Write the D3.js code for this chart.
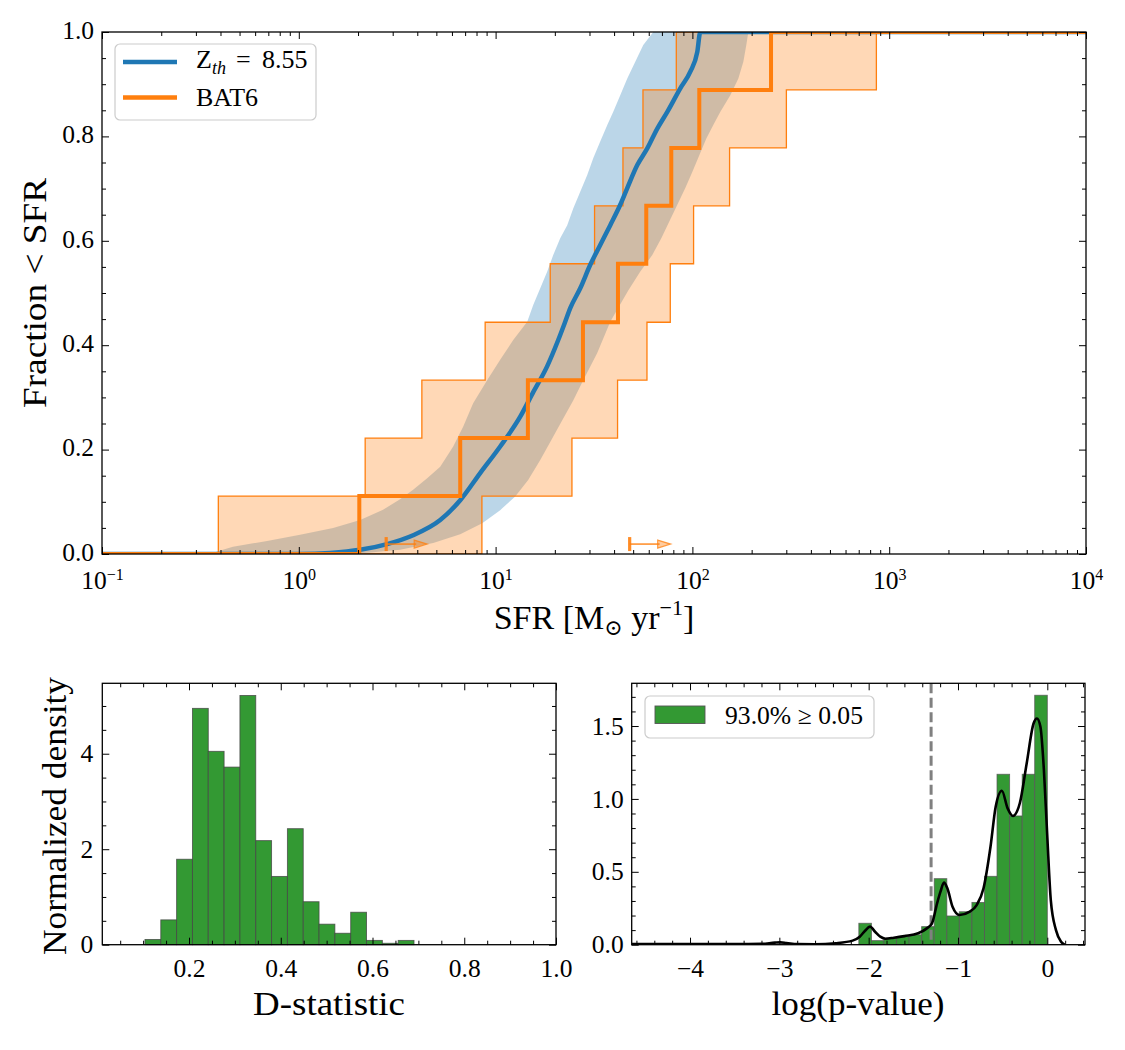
<!DOCTYPE html>
<html><head><meta charset="utf-8">
<script src="https://cdn.jsdelivr.net/npm/d3@7"></script>
<style>
body{margin:0;background:#fff;}
svg{display:block;}
svg text{font-family:'Liberation Serif','DejaVu Serif',serif;}
</style></head><body>
<svg id="chart" width="1125" height="1050"></svg>
<script>
// ---------------- DATA ----------------
// BAT6 observed ECDF (SFR in Msun/yr) and fractions
const bat6SFR  = [2.03, 6.61, 14.59, 27.79, 41.86, 58.29, 78.1, 108.4, 250.9];
const bat6Frac = [0.111, 0.222, 0.333, 0.444, 0.556, 0.667, 0.778, 0.889, 1.0];
// BAT6 confidence band edges (step positions)
const bat6UpperSFR = [0.390, 2.174, 4.22, 8.85, 18.95, 31.83, 44.38, 56.09, 82.83];
const bat6LowerSFR = [8.52, 24.43, 41.66, 58.77, 77.19, 101.4, 154.5, 300.3, 860.7];
// BAT6 lower limits (arrows)
const bat6LimitSFR = [2.78, 48.0];
const bat6LimitFrac = [0.019, 0.019];

// Model (Z_th = 8.55) median cumulative distribution
const modelSFR  = [1.015, 1.442, 2.05, 2.81, 3.81, 5.23, 6.61, 8.35, 10.55, 13.34, 15.53, 18.30, 20.81, 22.58, 23.95, 26.92, 30.27, 34.01, 38.25, 42.99, 46.67, 52.47, 58.97, 66.31, 74.56, 86.79, 97.57, 105.9, 109.7];
const modelFrac = [0, 0.002, 0.008, 0.019, 0.036, 0.065, 0.103, 0.155, 0.206, 0.263, 0.31, 0.36, 0.41, 0.445, 0.471, 0.509, 0.554, 0.592, 0.63, 0.669, 0.701, 0.745, 0.777, 0.815, 0.847, 0.892, 0.924, 0.962, 1.0];
// Model band: upper (left) edge
const modelHiSFR  = [0.362, 0.384, 0.463, 0.690, 1.015, 1.494, 2.05, 2.68, 3.27, 3.81, 4.49, 5.23, 6.09, 6.84, 7.69, 9.06, 10.55, 12.29, 14.48, 15.53, 16.86, 18.30, 19.63, 21.30, 23.12, 24.80, 26.92, 29.22, 31.34, 34.01, 36.94, 39.62, 42.99, 46.67, 51.25, 56.28, 63.28];
const modelHiFrac = [0, 0.005, 0.014, 0.025, 0.037, 0.05, 0.065, 0.085, 0.105, 0.123, 0.145, 0.167, 0.206, 0.244, 0.289, 0.333, 0.372, 0.41, 0.445, 0.477, 0.509, 0.541, 0.573, 0.605, 0.63, 0.662, 0.694, 0.726, 0.758, 0.79, 0.822, 0.847, 0.879, 0.911, 0.943, 0.975, 1.0];
// Model band: lower (right) edge
const modelLoSFR  = [1.720, 2.304, 3.27, 4.82, 6.61, 8.55, 10.55, 12.58, 14.64, 16.86, 19.17, 21.81, 24.80, 27.88, 32.84, 38.25, 42.50, 47.22, 54.36, 62.54, 69.50, 76.32, 83.81, 92.03, 99.89, 108.4, 117.7, 127.7, 138.7, 155.8, 171.2, 181.5, 187.9, 192.4];
const modelLoFrac = [0, 0.003, 0.008, 0.021, 0.038, 0.059, 0.084, 0.11, 0.142, 0.18, 0.218, 0.256, 0.294, 0.333, 0.385, 0.445, 0.475, 0.505, 0.541, 0.573, 0.605, 0.637, 0.669, 0.701, 0.732, 0.764, 0.796, 0.822, 0.847, 0.879, 0.911, 0.943, 0.975, 1.0];

// D-statistic histogram
const dEdges   = [0.104, 0.1385, 0.173, 0.2075, 0.242, 0.2765, 0.311, 0.3455, 0.380, 0.4145, 0.449, 0.4835, 0.518, 0.5525, 0.587, 0.6215, 0.656, 0.6905];
const dDensity = [0.11, 0.52, 1.79, 4.95, 4.05, 3.72, 5.22, 2.18, 1.43, 2.43, 0.90, 0.43, 0.24, 0.68, 0.09, 0.03, 0.09];

// log(p-value) histogram
const pEdges   = [-2.110, -1.969, -1.829, -1.688, -1.547, -1.407, -1.266, -1.125, -0.985, -0.844, -0.703, -0.563, -0.422, -0.281, -0.141, 0.0];
const pDensity = [0.147, 0.028, 0.044, 0.055, 0.068, 0.124, 0.453, 0.197, 0.226, 0.290, 0.469, 1.169, 0.883, 1.169, 1.711];
// KDE of log(p-value)
const kdeX = [-4.65, -4.0, -3.5, -3.2, -3.05, -2.99, -2.92, -2.8, -2.6, -2.37, -2.18, -2.10, -2.04, -1.985, -1.928, -1.87, -1.813, -1.717, -1.60, -1.446, -1.349, -1.291, -1.234, -1.196, -1.157, -1.119, -1.061, -0.983, -0.868, -0.791, -0.714, -0.636, -0.578, -0.509, -0.444, -0.385, -0.308, -0.231, -0.154, -0.116, -0.077, -0.038, 0.0, 0.039, 0.097, 0.154, 0.193];
const kdeY = [0.005, 0.005, 0.004, 0.006, 0.014, 0.016, 0.012, 0.004, 0.003, 0.010, 0.028, 0.055, 0.096, 0.124, 0.089, 0.055, 0.041, 0.048, 0.059, 0.078, 0.112, 0.146, 0.284, 0.364, 0.426, 0.387, 0.261, 0.204, 0.227, 0.272, 0.387, 0.672, 0.947, 1.056, 0.935, 0.883, 0.970, 1.243, 1.517, 1.552, 1.495, 1.198, 0.740, 0.306, 0.100, 0.020, 0.0];
const pThreshold = -1.301; // log10(0.05)
const pLegendLabel = "93.0% \u2265 0.05";

// Tick definitions
const topXMajor = [0.1, 1, 10, 100, 1000, 10000];
const topYMajor = [0, 0.2, 0.4, 0.6, 0.8, 1.0];
const dXMajor = [0.2, 0.4, 0.6, 0.8, 1.0];
const dYMajor = [0, 2, 4];
const pXMajor = [-4, -3, -2, -1, 0];
const pYMajor = [0, 0.5, 1.0, 1.5];

// ---------------- DRAW ----------------
const FONT = "'Liberation Serif','DejaVu Serif',serif";
const TICKFS = 25.5;
const svg = d3.select("#chart").style("font-family", FONT);
const C0 = "#1f77b4", C1 = "#ff7f0e", GREEN = "#339933";

function axesFrame(x, y, box, o) {
  const g = svg.append("g");
  const add = (axis, tx, ty) => {
    const a = g.append("g").attr("transform", `translate(${tx},${ty})`).call(axis);
    a.select(".domain").remove();
    a.attr("font-family", null).style("font-family", FONT).attr("font-size", TICKFS);
    a.selectAll("line").attr("stroke", "#000").attr("stroke-width", 1);
    a.selectAll("text").attr("fill", "#000");
    return a;
  };
  const bx = add(d3.axisBottom(x).tickValues(o.xMajor).tickSize(-7).tickFormat(o.xFmt), 0, box.b);
  bx.selectAll("text").attr("dy", null).attr("y", o.xBase || 32);
  add(d3.axisBottom(x).tickValues(o.xMinor).tickSize(-4).tickFormat(""), 0, box.b);
  add(d3.axisTop(x).tickValues(o.xMajor).tickSize(-7).tickFormat(""), 0, box.t);
  add(d3.axisTop(x).tickValues(o.xMinor).tickSize(-4).tickFormat(""), 0, box.t);
  const ly = add(d3.axisLeft(y).tickValues(o.yMajor).tickSize(-7).tickPadding(o.yPad).tickFormat(o.yFmt), box.l, 0);
  if (o.yDy) ly.selectAll("text").attr("dy", o.yDy);
  add(d3.axisLeft(y).tickValues(o.yMinor).tickSize(-4).tickFormat(""), box.l, 0);
  add(d3.axisRight(y).tickValues(o.yMajor).tickSize(-7).tickFormat(""), box.r, 0);
  add(d3.axisRight(y).tickValues(o.yMinor).tickSize(-4).tickFormat(""), box.r, 0);
  g.append("rect").attr("x", box.l).attr("y", box.t).attr("width", box.r - box.l).attr("height", box.b - box.t)
    .attr("fill", "none").attr("stroke", "#000").attr("stroke-width", 1.3);
  return { bx, ly };
}

function stepVerts(xs, ys, xStart, xEnd, y0) {
  const v = [[xStart, y0]];
  let prev = y0;
  xs.forEach((xv, i) => { v.push([xv, prev]); v.push([xv, ys[i]]); prev = ys[i]; });
  v.push([xEnd, prev]);
  return v;
}

// ===== TOP PANEL =====
const T = { l: 102, r: 1086, t: 32, b: 554 };
const xT = d3.scaleLog().domain([0.1, 1e4]).range([T.l, T.r]);
const yT = d3.scaleLinear().domain([0, 1]).range([T.b, T.t]);
const defs = svg.append("defs");
defs.append("clipPath").attr("id", "clipT").append("rect")
  .attr("x", T.l).attr("y", T.t).attr("width", T.r - T.l).attr("height", T.b - T.t);
const gT = svg.append("g").attr("clip-path", "url(#clipT)");
const lineT = d3.line().x(d => xT(d[0])).y(d => yT(d[1]));

// model band
const hiPts = modelHiSFR.map((s, i) => [s, modelHiFrac[i]]);
const loPts = modelLoSFR.map((s, i) => [s, modelLoFrac[i]]);
const bandPoly = [[0.1, 0]].concat(hiPts, [[1e4, 1]], loPts.slice().reverse());
gT.append("path").attr("d", lineT(bandPoly) + "Z").attr("fill", C0).attr("fill-opacity", 0.3).attr("stroke", "none");

// BAT6 band
const upV = stepVerts(bat6UpperSFR, bat6Frac, 0.1, 1e4, 0);
const loV = stepVerts(bat6LowerSFR, bat6Frac, 0.1, 1e4, 0);
gT.append("path").attr("d", lineT(upV.concat(loV.slice().reverse())) + "Z")
  .attr("fill", C1).attr("fill-opacity", 0.3).attr("stroke", C1).attr("stroke-width", 1.3).attr("stroke-linejoin", "miter");

// model median line
const medPts = [[0.1, 0]].concat(modelSFR.map((s, i) => [s, modelFrac[i]]), [[1e4, 1]]);
gT.append("path").attr("d", lineT.curve(d3.curveMonotoneX)(medPts)).attr("fill", "none").attr("stroke", C0).attr("stroke-width", 4.5).attr("stroke-linejoin", "round");
lineT.curve(d3.curveLinear);

// BAT6 ECDF
const ecdf = stepVerts(bat6SFR, bat6Frac, 0.1, 1e4, 0);
gT.append("path").attr("d", lineT(ecdf)).attr("fill", "none").attr("stroke", C1).attr("stroke-width", 4).attr("stroke-linejoin", "miter");

// lower-limit arrows
bat6LimitSFR.forEach((s, i) => {
  const x0 = xT(s), y0 = yT(bat6LimitFrac[i]);
  gT.append("line").attr("x1", x0).attr("x2", x0).attr("y1", y0 - 7).attr("y2", y0 + 7)
    .attr("stroke", C1).attr("stroke-width", 3.2).attr("stroke-opacity", 0.9);
  gT.append("line").attr("x1", x0).attr("x2", x0 + 30).attr("y1", y0).attr("y2", y0)
    .attr("stroke", C1).attr("stroke-width", 1.8).attr("stroke-opacity", 0.75);
  gT.append("path").attr("d", `M${x0 + 28},${y0 - 4} L${x0 + 41},${y0} L${x0 + 28},${y0 + 4} Z`)
    .attr("fill", C1).attr("fill-opacity", 0.4).attr("stroke", C1).attr("stroke-opacity", 0.75).attr("stroke-width", 1.2);
});

// axes top
const topXMinor = [];
[-1, 0, 1, 2, 3].forEach(e => { for (let k = 2; k <= 9; k++) topXMinor.push(k * Math.pow(10, e)); });
const topYMinor = d3.range(0, 21).map(i => i * 0.05).filter(v => Math.abs(v * 5 - Math.round(v * 5)) > 1e-6);
const axT = axesFrame(xT, yT, T, {
  xMajor: topXMajor, xMinor: topXMinor, xFmt: () => "", xBase: 35,
  yMajor: topYMajor, yMinor: topYMinor, yFmt: d3.format(".1f"), yPad: 8, yDy: "0.25em"
});
axT.bx.selectAll(".tick text").each(function (d) {
  const t = d3.select(this);
  const e = Math.round(Math.log10(d));
  t.text("");
  t.append("tspan").text("10");
  t.append("tspan").attr("dy", -9).attr("font-size", 16).text(e < 0 ? "\u2212" + Math.abs(e) : String(e));
});

// top legend
const lg = svg.append("g");
lg.append("rect").attr("x", 115).attr("y", 44).attr("width", 201).attr("height", 76).attr("rx", 5)
  .attr("fill", "#fff").attr("fill-opacity", 0.8).attr("stroke", "#cccccc").attr("stroke-width", 1.2);
lg.append("line").attr("x1", 123).attr("x2", 177).attr("y1", 62).attr("y2", 62).attr("stroke", C0).attr("stroke-width", 4.5);
lg.append("line").attr("x1", 123).attr("x2", 177).attr("y1", 97.5).attr("y2", 97.5).attr("stroke", C1).attr("stroke-width", 4.5);
const lt1 = lg.append("text").attr("x", 196).attr("y", 68).attr("font-size", 26);
lt1.append("tspan").text("Z");
lt1.append("tspan").attr("dy", 6).attr("font-size", 18).attr("font-style", "italic").text("th");
lt1.append("tspan").attr("x", 236).attr("dy", -6).text("=");
lt1.append("tspan").attr("x", 262).text("8.55");
lg.append("text").attr("x", 196).attr("y", 106).attr("font-size", 26).text("BAT6");

// top axis labels
const xl = svg.append("text").attr("x", 594).attr("y", 629).attr("text-anchor", "middle").attr("font-size", 34);
xl.append("tspan").text("SFR [M");
xl.append("tspan").attr("font-size", 22).attr("dy", 6).text("\u2299");
xl.append("tspan").attr("dy", -6).text(" yr");
xl.append("tspan").attr("font-size", 22).attr("dy", -14).text("\u22121");
xl.append("tspan").attr("dy", 14).text("]");
svg.append("text").attr("transform", "translate(46,293) rotate(-90)").attr("text-anchor", "middle")
  .attr("font-size", 33).attr("textLength", 230).attr("lengthAdjust", "spacingAndGlyphs").text("Fraction < SFR");

// ===== BOTTOM LEFT: D-statistic =====
const BL = { l: 102.3, r: 556, t: 683.3, b: 944.7 };
const xD = d3.scaleLinear().domain([0.011, 1.0]).range([BL.l, BL.r]);
const yD = d3.scaleLinear().domain([0, 5.475]).range([BL.b, BL.t]);
const gD = svg.append("g");
gD.selectAll("rect").data(dDensity).join("rect")
  .attr("x", (d, i) => xD(dEdges[i])).attr("width", (d, i) => xD(dEdges[i + 1]) - xD(dEdges[i]))
  .attr("y", d => yD(d)).attr("height", d => yD(0) - yD(d))
  .attr("fill", GREEN).attr("stroke", "#444").attr("stroke-opacity", 0.8).attr("stroke-width", 0.9);
const dXMinor = d3.range(1, 20).map(i => +(i * 0.05).toFixed(2)).filter(v => Math.abs(v * 5 - Math.round(v * 5)) > 1e-6);
const dYMinor = d3.range(1, 11).map(i => i * 0.5).filter(v => v % 2 !== 0);
axesFrame(xD, yD, BL, {
  xMajor: dXMajor, xMinor: dXMinor, xFmt: d3.format(".1f"),
  yMajor: dYMajor, yMinor: dYMinor, yFmt: d3.format("d"), yPad: 9
});
svg.append("text").attr("x", 329).attr("y", 1015).attr("text-anchor", "middle").attr("font-size", 33)
  .attr("textLength", 152).attr("lengthAdjust", "spacingAndGlyphs").text("D-statistic");
svg.append("text").attr("transform", "translate(66,816) rotate(-90)").attr("text-anchor", "middle")
  .attr("font-size", 33).attr("textLength", 278).attr("lengthAdjust", "spacingAndGlyphs").text("Normalized density");

// ===== BOTTOM RIGHT: log(p-value) =====
const BR = { l: 631.7, r: 1085, t: 683.3, b: 944.7 };
const xP = d3.scaleLinear().domain([-4.653, 0.422]).range([BR.l, BR.r]);
const yP = d3.scaleLinear().domain([0, 1.793]).range([BR.b, BR.t]);
defs.append("clipPath").attr("id", "clipP").append("rect")
  .attr("x", BR.l).attr("y", BR.t).attr("width", BR.r - BR.l).attr("height", BR.b - BR.t);
const gP = svg.append("g").attr("clip-path", "url(#clipP)");
gP.selectAll("rect").data(pDensity).join("rect")
  .attr("x", (d, i) => xP(pEdges[i])).attr("width", (d, i) => xP(pEdges[i + 1]) - xP(pEdges[i]))
  .attr("y", d => yP(d)).attr("height", d => yP(0) - yP(d))
  .attr("fill", GREEN).attr("stroke", "#555").attr("stroke-opacity", 0.8).attr("stroke-width", 0.9);
gP.append("line").attr("x1", xP(pThreshold)).attr("x2", xP(pThreshold)).attr("y1", BR.t).attr("y2", BR.b)
  .attr("stroke", "#808080").attr("stroke-width", 3).attr("stroke-dasharray", "10,4.5");
gP.append("path").datum(kdeX.map((v, i) => [v, kdeY[i]]))
  .attr("d", d3.line().x(d => xP(d[0])).y(d => yP(d[1])).curve(d3.curveMonotoneX))
  .attr("fill", "none").attr("stroke", "#000").attr("stroke-width", 2.6);
const pXMinor = d3.range(-23, 3).map(i => +(i * 0.2).toFixed(1)).filter(v => Math.abs(v - Math.round(v)) > 1e-6);
const pYMinor = d3.range(1, 18).map(i => +(i * 0.1).toFixed(1)).filter(v => Math.abs(v * 2 - Math.round(v * 2)) > 1e-6);
axesFrame(xP, yP, BR, {
  xMajor: pXMajor, xMinor: pXMinor, xFmt: d => (d < 0 ? "\u2212" + Math.abs(d) : String(d)),
  yMajor: pYMajor, yMinor: pYMinor, yFmt: d3.format(".1f"), yPad: 8
});
// legend
const lg2 = svg.append("g");
lg2.append("rect").attr("x", 645).attr("y", 696).attr("width", 229).attr("height", 42).attr("rx", 5)
  .attr("fill", "#fff").attr("fill-opacity", 0.8).attr("stroke", "#cccccc").attr("stroke-width", 1.2);
lg2.append("rect").attr("x", 655).attr("y", 706).attr("width", 50).attr("height", 17.5)
  .attr("fill", GREEN).attr("stroke", "#555").attr("stroke-width", 0.9);
lg2.append("text").attr("x", 725).attr("y", 723.5).attr("font-size", 25).attr("textLength", 138)
  .attr("lengthAdjust", "spacingAndGlyphs").text(pLegendLabel);
svg.append("text").attr("x", 858).attr("y", 1015).attr("text-anchor", "middle").attr("font-size", 33)
  .attr("textLength", 173).attr("lengthAdjust", "spacingAndGlyphs").text("log(p-value)");
</script>
</body></html>
